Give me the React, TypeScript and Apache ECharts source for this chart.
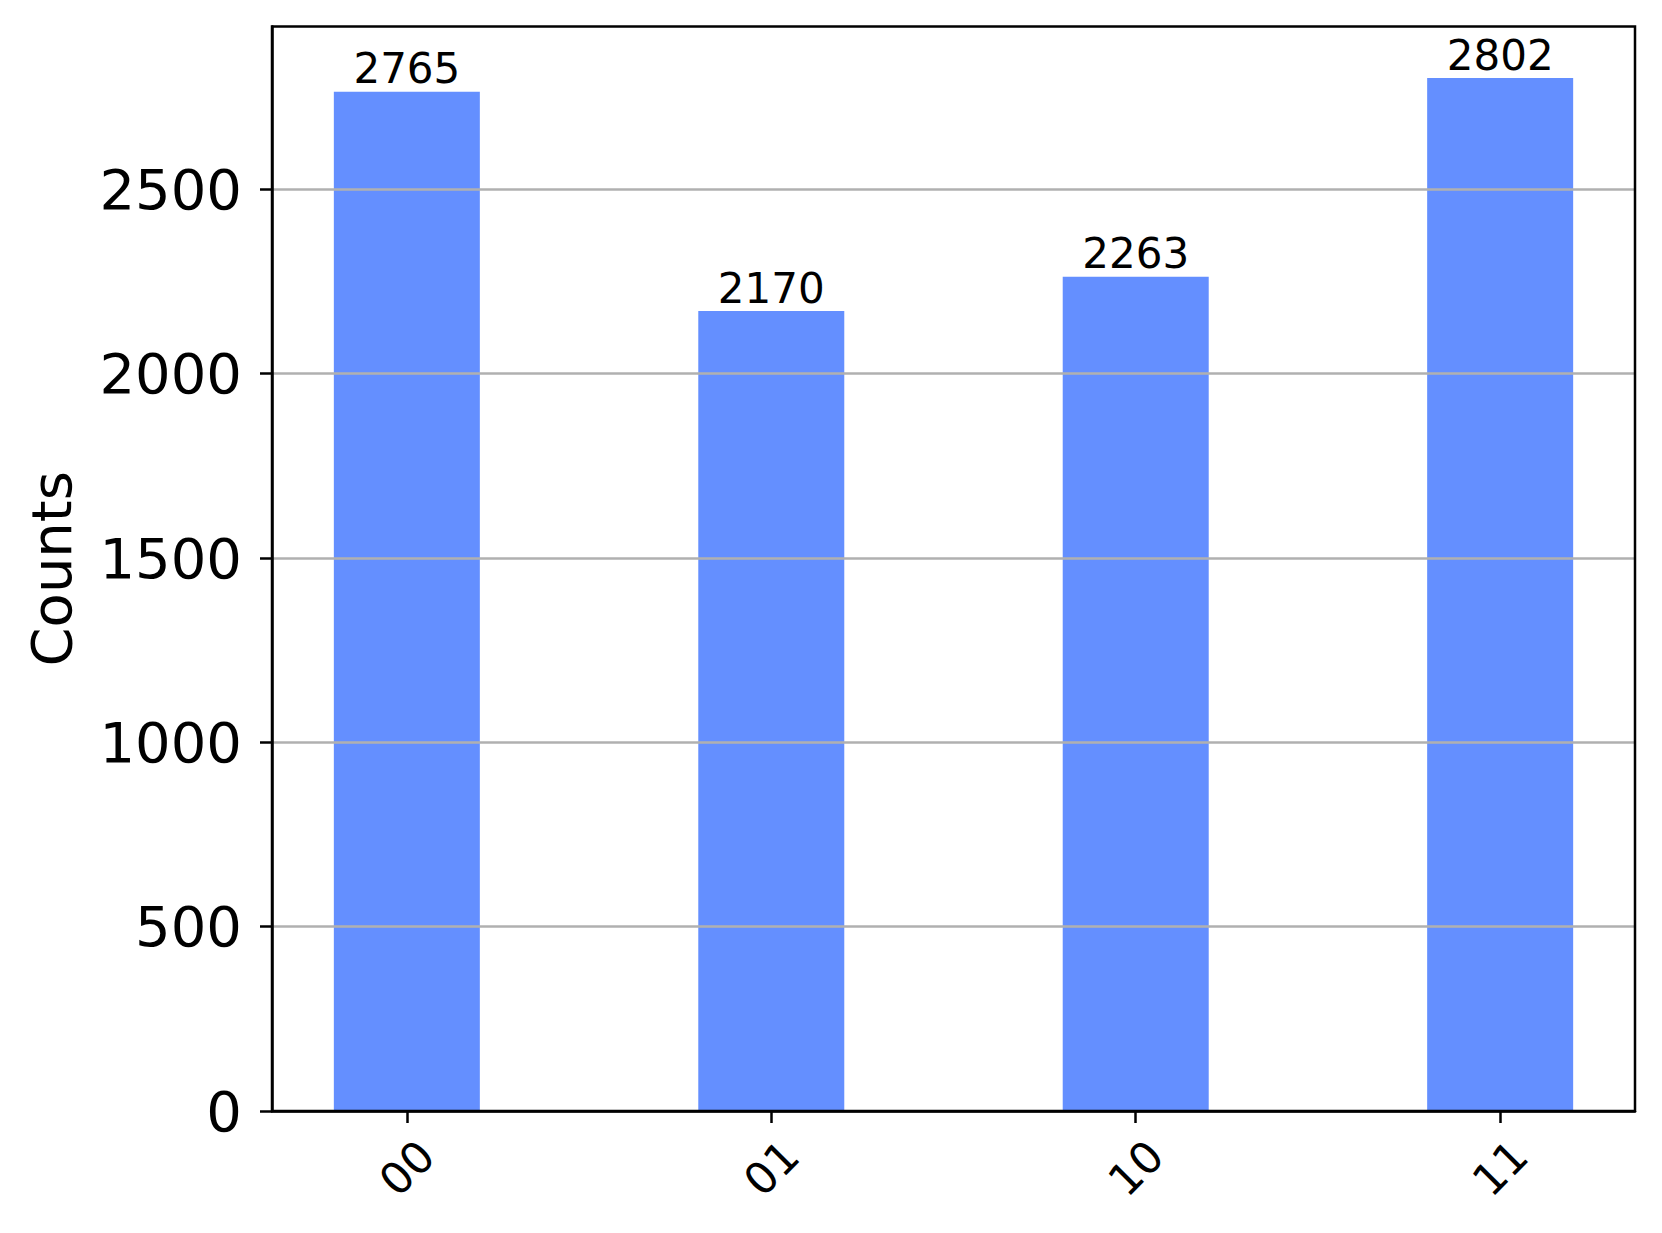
import React, { useEffect, useRef } from "react";
import * as echarts from "echarts";

const categories = ["00", "01", "10", "11"];
const counts = [2765, 2170, 2263, 2802];
const yTicks = [0, 500, 1000, 1500, 2000, 2500];
const xPositions = [0, 1, 2, 3];

const FONT = "DejaVu Sans";

export default function App() {
  const ref = useRef<HTMLDivElement>(null);
  useEffect(() => {
    const chart = echarts.init(ref.current!, null, { renderer: "svg" });
    chart.setOption({
      animation: false,
      backgroundColor: "#ffffff",
      grid: {
        left: 272,
        top: 26.5,
        right: 27,
        bottom: 122,
        show: true,
        borderColor: "#000000",
        borderWidth: 2.5,
        z: 10,
      },
      xAxis: {
        type: "value",
        min: -0.37,
        max: 3.37,
        z: 4,
        axisLine: { show: true, onZero: false, lineStyle: { color: "#000", width: 2.5 } },
        axisTick: {
          show: true,
          customValues: xPositions,
          length: 12,
          lineStyle: { color: "#000", width: 2.5 },
        },
        axisLabel: {
          customValues: xPositions,
          formatter: (v: number) => categories[Math.round(v)] ?? "",
          rotate: 45,
          align: "center",
          verticalAlign: "middle",
          margin: 57,
          fontSize: 44,
          fontFamily: FONT,
          color: "#000",
        },
        splitLine: { show: false },
      },
      yAxis: {
        type: "value",
        min: 0,
        max: 2942,
        interval: 500,
        z: 3,
        name: "Counts",
        nameLocation: "middle",
        nameRotate: 90,
        nameGap: 193,
        nameTextStyle: { fontSize: 56, fontFamily: FONT, color: "#000" },
        axisLine: { show: true, onZero: false, lineStyle: { color: "#000", width: 2.5 } },
        axisTick: {
          show: true,
          customValues: yTicks,
          length: 12,
          lineStyle: { color: "#000", width: 2.5 },
        },
        axisLabel: {
          customValues: yTicks,
          formatter: (v: number) => String(v),
          margin: 30,
          fontSize: 56,
          fontFamily: FONT,
          color: "#000",
        },
        splitLine: {
          show: true,
          lineStyle: { color: "#b0b0b0", width: 2.5 },
        },
      },
      series: [
        {
          type: "bar",
          data: xPositions.map((x, i) => [x, counts[i]]),
          barWidth: 146,
          itemStyle: { color: "#648fff" },
          label: {
            show: true,
            position: "top",
            distance: 2,
            fontSize: 42,
            fontFamily: FONT,
            color: "#000",
            formatter: (p: any) => String(p.value[1]),
          },
        },
      ],
    });
    return () => chart.dispose();
  }, []);
  return (
    <div
      ref={ref}
      style={{ position: "fixed", left: 0, top: 0, width: 1662, height: 1233 }}
    />
  );
}
